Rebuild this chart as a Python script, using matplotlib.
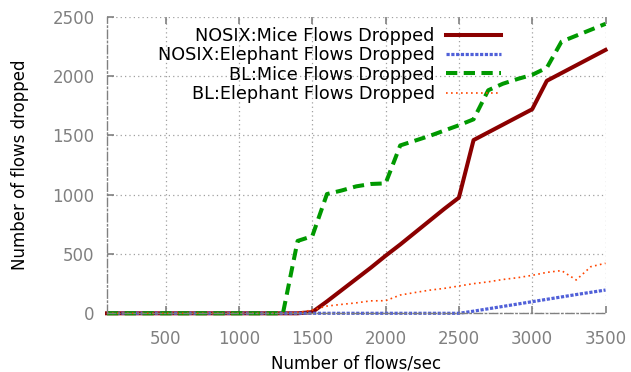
import matplotlib
matplotlib.use("Agg")
from matplotlib import pyplot as plt

flows = [100, 200, 300, 400, 500, 600, 700, 800, 900, 1000, 1100, 1200, 1300,
         1400, 1500, 1600, 1700, 1800, 1900, 2000, 2100, 2200, 2300, 2400, 2500,
         2600, 2700, 2800, 2900, 3000, 3100, 3200, 3300, 3400, 3500]

nosix_mice = [0] * 14 + [10, 100, 195, 290, 385, 485, 580, 680, 780, 880, 975,
                         1460, 1525, 1590, 1655, 1720, 1960, 2025, 2090, 2155, 2220]
nosix_elephant = [0] * 24 + [0, 18, 38, 58, 78, 98, 118, 138, 158, 177, 196]
bl_mice = [0] * 12 + [0, 610, 650, 1005, 1035, 1070, 1090, 1095, 1415, 1455,
                      1495, 1540, 1585, 1635, 1880, 1935, 1975, 2010, 2070, 2290,
                      2340, 2390, 2440]
bl_elephant = [0] * 12 + [0, 5, 28, 61, 75, 88, 105, 106, 154, 175, 195, 210,
                          230, 250, 265, 285, 300, 320, 345, 360, 281, 393, 422]

labels = ["NOSIX:Mice Flows Dropped", "NOSIX:Elephant Flows Dropped",
          "BL:Mice Flows Dropped", "BL:Elephant Flows Dropped"]

fig = plt.figure(figsize=(6.31, 3.72), dpi=100)
ax = fig.add_axes([0.1696, 0.1578, 0.79, 0.7973])

ax.plot(flows, nosix_mice, color="#8b0000", lw=2.9, label=labels[0], clip_on=False)
ax.plot(flows, nosix_elephant, color="#5060d8", lw=2.3, ls=(0, (1, 0.5)),
        label=labels[1], clip_on=False)
ax.plot(flows, bl_mice, color="#009900", lw=2.9, ls=(0, (2.8, 1.6)),
        label=labels[2], clip_on=False)
ax.plot(flows, bl_elephant, color="#ff4500", lw=1.2, ls=(0, (1, 2)),
        label=labels[3], clip_on=False)

ax.set_xlim(100, 3500)
ax.set_ylim(0, 2500)
ax.set_xticks([500, 1000, 1500, 2000, 2500, 3000, 3500])
ax.set_yticks([0, 500, 1000, 1500, 2000, 2500])

ax.grid(True, color="#a0a0a0", ls=(0, (1, 2.5)), lw=0.9)
for side in ["top", "right"]:
    ax.spines[side].set_visible(False)
for side in ["left", "bottom"]:
    ax.spines[side].set_color("#808080")
    ax.spines[side].set_linestyle((0, (6, 2, 1, 2)))
    ax.spines[side].set_linewidth(1.0)

ax.tick_params(direction="in", length=5, width=1.2, color="#808080",
               labelcolor="#808080", labelsize=12, top=True)
ax.tick_params(axis="x", pad=12)
ax.tick_params(axis="y", pad=9)

ax.set_xlabel("Number of flows/sec", fontsize=12, labelpad=5)
ax.set_ylabel("Number of flows dropped", fontsize=12, labelpad=17)

ax.legend(loc="upper right", bbox_to_anchor=(0.79, 0.966), frameon=False,
          markerfirst=False, fontsize=12.7, handlelength=3.1, handletextpad=0.65,
          labelspacing=0.08, borderaxespad=0, borderpad=0)

fig.savefig("out.png", dpi=100)
